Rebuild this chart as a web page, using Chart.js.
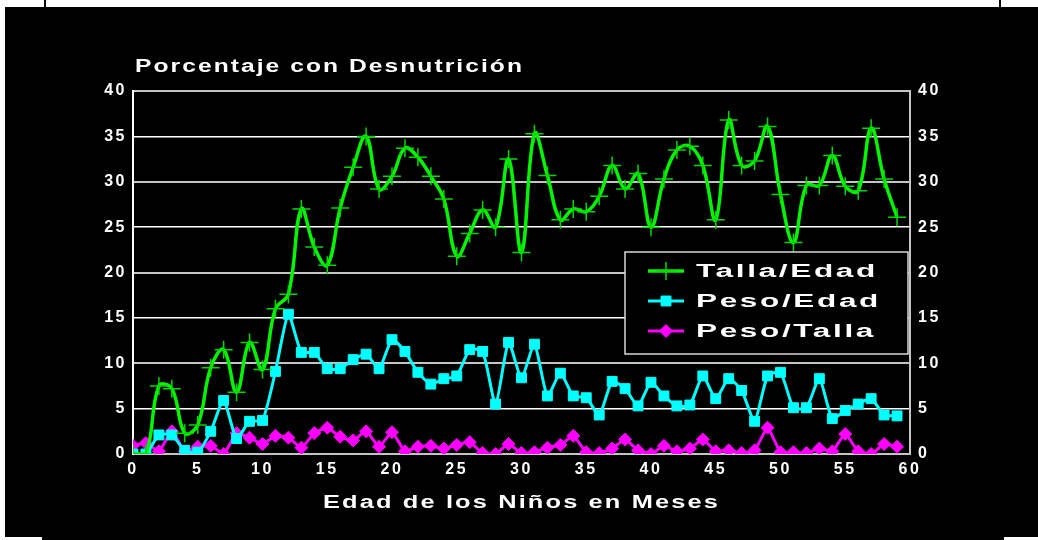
<!DOCTYPE html>
<html>
<head>
<meta charset="utf-8">
<script src="https://cdn.jsdelivr.net/npm/chart.js@4"></script>
<style>
  html, body { margin: 0; padding: 0; background: #fff; }
  #wrap { position: relative; width: 1038px; height: 540px; overflow: hidden; }
  .blk { position: absolute; background: #000; }
  canvas { position: absolute; left: 0; top: 0; }
</style>
</head>
<body>
<div id="wrap">
  <div class="blk" style="left:5px;top:7px;width:1033px;height:530px"></div>
  <div class="blk" style="left:42px;top:530px;width:962px;height:10px"></div>
  <div class="blk" style="left:44px;top:0;width:2px;height:8px"></div>
  <div class="blk" style="left:999px;top:0;width:2px;height:8px"></div>
  <canvas id="chart" width="1038" height="540"></canvas>
</div>
<script>
// edad en meses
const months = [0,1,2,3,4,5,6,7,8,9,10,11,12,13,14,15,16,17,18,19,
  20,21,22,23,24,25,26,27,28,29,30,31,32,33,34,35,36,37,38,39,
  40,41,42,43,44,45,46,47,48,49,50,51,52,53,54,55,56,57,58,59];

const tallaEdad = [0,0,7.5,7.2,2.3,3.2,9.5,11.5,6.8,12.3,
  9.3,16.0,17.6,27.0,22.8,20.8,27.1,31.6,35.0,29.2,
  30.6,33.7,32.7,30.6,28.1,21.8,24.3,26.9,25.0,32.5,
  22.2,35.3,30.7,25.8,27.0,26.7,28.4,31.8,29.2,30.9,
  25.0,30.3,33.5,33.9,31.8,25.8,36.8,31.8,32.3,36.1,
  28.6,23.3,29.6,29.6,32.9,29.5,29.0,35.9,30.3,26.1];

const pesoEdad = [0,0,2.1,2.1,0.4,0.2,2.5,5.9,1.7,3.6,
  3.7,9.1,15.4,11.2,11.2,9.4,9.4,10.4,11.0,9.4,
  12.6,11.3,9.0,7.7,8.3,8.6,11.5,11.3,5.5,12.3,
  8.4,12.1,6.4,8.9,6.4,6.2,4.3,8.0,7.2,5.3,
  7.9,6.4,5.3,5.4,8.6,6.1,8.3,7.0,3.6,8.6,
  9.0,5.1,5.1,8.3,3.9,4.8,5.5,6.1,4.3,4.2];

const pesoTalla = [0.9,1.2,0.3,2.5,0.3,0.8,0.9,0,2.3,1.8,
  1.1,2.0,1.8,0.7,2.3,2.9,1.9,1.5,2.5,0.8,
  2.4,0.3,0.8,0.9,0.6,1.0,1.3,0.1,0,1.1,
  0.1,0.2,0.7,1.0,2.0,0.2,0.1,0.6,1.6,0.4,
  0,0.9,0.3,0.6,1.6,0.3,0.4,0.1,0.4,2.9,
  0.2,0.2,0.1,0.6,0.3,2.2,0.3,0,1.1,0.8];

const seriesNames = ['Talla/Edad', 'Peso/Edad', 'Peso/Talla'];
const chartTitle = 'Porcentaje con Desnutrición';
const xTitle = 'Edad de los Niños en Meses';

const pts = arr => months.map((m, i) => ({ x: m, y: arr[i] }));

// texto ancho, estirado como el original
function wideText(ctx, text, x, y, width, size, align) {
  ctx.save();
  ctx.font = 'bold ' + size + 'px "Liberation Sans", Arial, sans-serif';
  ctx.letterSpacing = '1.5px';
  ctx.textBaseline = 'middle';
  ctx.textAlign = 'left';
  const w = ctx.measureText(text).width;
  const s = width / w;
  ctx.translate(align === 'center' ? x - width / 2 : x, y);
  ctx.scale(s, 1);
  ctx.fillStyle = '#fff';
  ctx.fillText(text, 0, 0);
  ctx.restore();
}

const deco = {
  id: 'deco',
  beforeDraw(chart) {
    chart.ctx.letterSpacing = '2.5px';
  },
  afterDraw(chart) {
    const ctx = chart.ctx;
    const a = chart.chartArea;
    wideText(ctx, chartTitle, a.left + 2, 67, 389, 18, 'left');
    wideText(ctx, xTitle, (a.left + a.right) / 2, 503, 397, 18, 'center');

    // leyenda
    ctx.save();
    ctx.fillStyle = '#000';
    ctx.fillRect(625, 252, 283, 102);
    ctx.strokeStyle = '#d8d8d8';
    ctx.lineWidth = 1.5;
    ctx.strokeRect(625, 252, 283, 102);
    const widths = [182, 185, 180];
    chart.data.datasets.forEach((ds, i) => {
      const y = 271 + i * 30;
      ctx.strokeStyle = ds.borderColor;
      ctx.lineWidth = ds.borderWidth;
      ctx.beginPath();
      ctx.moveTo(648, y);
      ctx.lineTo(684, y);
      ctx.stroke();
      ctx.fillStyle = ds.pointBackgroundColor;
      ctx.strokeStyle = ds.pointBorderColor;
      ctx.lineWidth = ds.pointBorderWidth;
      Chart.helpers.drawPoint(ctx, {
        pointStyle: ds.pointStyle, radius: ds.pointRadius,
        rotation: 0, borderWidth: ds.pointBorderWidth
      }, 666, y);
      wideText(ctx, ds.label, 696, y + 1, widths[i], 18, 'left');
    });
    ctx.restore();
  }
};

const tickFont = { family: '"Liberation Sans", Arial, sans-serif', size: 16, weight: 'bold' };

new Chart(document.getElementById('chart'), {
  type: 'line',
  data: {
    datasets: [
      {
        label: seriesNames[0],
        data: pts(tallaEdad),
        borderColor: '#00f400',
        borderWidth: 3.5,
        tension: 0.4,
        pointStyle: 'cross',
        pointRadius: 9,
        pointBorderWidth: 1.5,
        pointBorderColor: '#00d800',
        pointBackgroundColor: '#00d800'
      },
      {
        label: seriesNames[1],
        data: pts(pesoEdad),
        borderColor: '#00ffff',
        borderWidth: 3,
        tension: 0.2,
        pointStyle: 'rect',
        pointRadius: 7,
        pointBorderWidth: 1,
        pointBorderColor: '#00ffff',
        pointBackgroundColor: '#00ffff'
      },
      {
        label: seriesNames[2],
        data: pts(pesoTalla),
        borderColor: '#ff00ff',
        borderWidth: 3,
        tension: 0.15,
        pointStyle: 'rectRot',
        pointRadius: 6.5,
        pointBorderWidth: 1,
        pointBorderColor: '#ff00ff',
        pointBackgroundColor: '#ff00ff'
      }
    ]
  },
  options: {
    responsive: false,
    animation: false,
    devicePixelRatio: 1,
    layout: { padding: { top: 91, left: 0, right: 0, bottom: 0 } },
    plugins: {
      legend: { display: false },
      title: { display: false },
      tooltip: { enabled: false }
    },
    scales: {
      x: {
        type: 'linear',
        min: 0,
        max: 60,
        afterFit(s) { s.height = 86; },
        grid: { display: false, drawTicks: false },
        border: { display: false },
        ticks: { stepSize: 5, color: '#fff', font: tickFont, padding: 6, maxRotation: 0 }
      },
      y: {
        position: 'left',
        min: 0,
        max: 40,
        afterFit(s) { s.width = 133; },
        grid: {
          drawTicks: false,
          color: c => (c.tick.value % 10 === 0 ? '#c4c4c4' : '#ffffff'),
          lineWidth: c => (c.tick.value % 10 === 0 ? 2 : 1.5)
        },
        border: { display: true, color: '#ffffff', width: 2 },
        ticks: { stepSize: 5, color: '#fff', font: tickFont, padding: 6 }
      },
      y2: {
        position: 'right',
        min: 0,
        max: 40,
        afterFit(s) { s.width = 128; },
        grid: { display: false, drawTicks: false },
        border: { display: true, color: '#c4c4c4', width: 2 },
        ticks: { stepSize: 5, color: '#fff', font: tickFont, padding: 8 }
      }
    }
  },
  plugins: [deco]
});
</script>
</body>
</html>
